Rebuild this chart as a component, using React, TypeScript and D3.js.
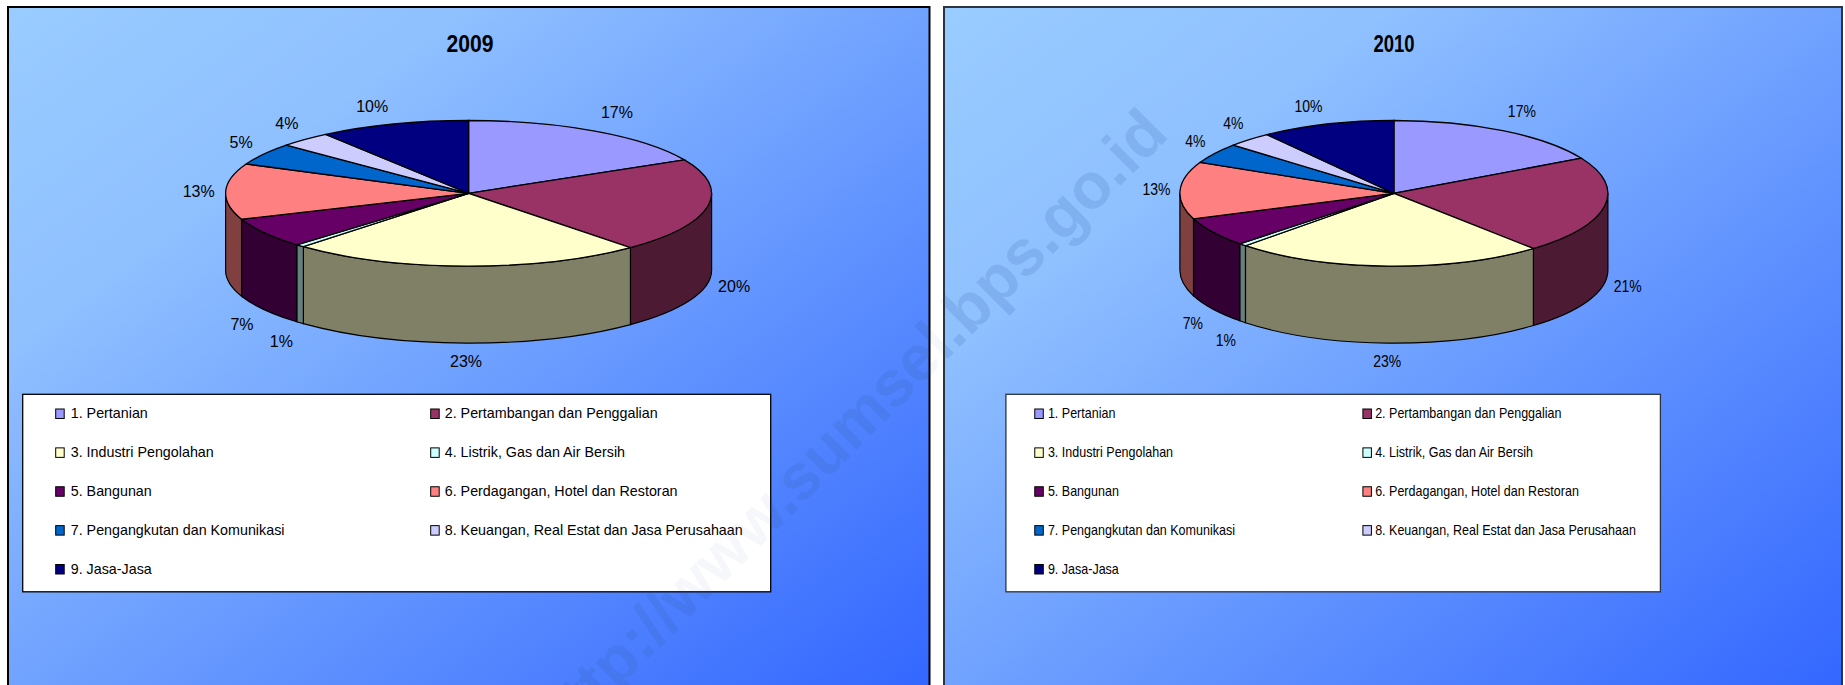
import React from 'react';
import * as d3 from 'd3';

const categories = [
  '1. Pertanian',
  '2. Pertambangan dan Penggalian',
  '3. Industri Pengolahan',
  '4. Listrik, Gas dan Air Bersih',
  '5. Bangunan',
  '6. Perdagangan, Hotel dan Restoran',
  '7. Pengangkutan dan Komunikasi',
  '8. Keuangan, Real Estat dan Jasa Perusahaan',
  '9. Jasa-Jasa',
];
const colors = ['#9999ff', '#993366', '#ffffcc', '#ccffff', '#660066', '#ff8080', '#0066cc', '#ccccff', '#000080'];

// slice sizes, the printed labels are slightly different after rounding
const shares2009 = [17.4, 21.0, 23.5, 0.6, 6.7, 12.4, 4.9, 3.5, 10.0];
const shares2010 = [17.0, 21.7, 23.5, 0.6, 6.5, 12.7, 4.5, 3.4, 10.1];
const labels2009 = ['17%', '20%', '23%', '1%', '7%', '13%', '5%', '4%', '10%'];
const labels2010 = ['17%', '21%', '23%', '1%', '7%', '13%', '4%', '4%', '10%'];

const WIDTH = 1845;
const HEIGHT = 685;
const CY = 193.3;
const RY = 72.8;
const DEPTH = 77;
const FONT = '"Liberation Sans", Arial, sans-serif';

const panels = [
  { id: 'p2009', title: '2009', shares: shares2009, labels: labels2009, x: 8, w: 921.5, cx: 468.6, rx: 243, titleX: 470, legendX: 22.7, sx: 1, stroke: '#000' },
  { id: 'p2010', title: '2010', shares: shares2010, labels: labels2010, x: 944, w: 898, cx: 1393.9, rx: 214, titleX: 1394, legendX: 1005.9, sx: 0.875, stroke: '#2b3440' },
];

const pie = d3.pie<number>().sort(null).value(d => d);
const arc = d3.arc<d3.PieArcDatum<number>>().innerRadius(0).outerRadius(100);

function wallPath(a0: number, a1: number, cx: number, rx: number) {
  const px = (a: number) => cx + rx * Math.sin(a);
  const py = (a: number) => CY - RY * Math.cos(a);
  const large = a1 - a0 > Math.PI ? 1 : 0;
  return (
    `M${px(a0)},${py(a0)}A${rx},${RY} 0 ${large} 1 ${px(a1)},${py(a1)}` +
    `L${px(a1)},${py(a1) + DEPTH}A${rx},${RY} 0 ${large} 0 ${px(a0)},${py(a0) + DEPTH}Z`
  );
}

function wallColor(c: string) {
  const { r, g, b } = d3.rgb(c);
  return d3.rgb(r / 2, g / 2, b / 2).formatHex();
}

function Watermark({ fill, opacity }: { fill: string; opacity: number }) {
  return (
    <text
      transform="translate(558.6,747.8) rotate(-45)"
      fontSize={64}
      fontWeight="bold"
      fontFamily={FONT}
      fill={fill}
      fillOpacity={opacity}
    >
      http://www.sumsel.bps.go.id
    </text>
  );
}

function Panel({ panel }: { panel: (typeof panels)[number] }) {
  const { sx, cx, rx } = panel;
  const slices = pie(panel.shares);
  const rowY = d3.scalePoint<number>().domain([0, 1, 2, 3, 4]).range([413.5, 569]);
  const colX = [33, 408].map(d => panel.legendX + d * sx);
  const textX = [48, 422].map(d => panel.legendX + d * sx);

  return (
    <g>
      <clipPath id={`${panel.id}-clip`}>
        <rect x={panel.x} y={7} width={panel.w} height={HEIGHT} />
      </clipPath>
      <rect x={panel.x} y={7} width={panel.w} height={HEIGHT} fill={`url(#${panel.id})`} />
      <g clipPath={`url(#${panel.id}-clip)`}>
        <Watermark fill="#2c5aa8" opacity={0.12} />
      </g>
      <rect x={panel.x} y={7} width={panel.w} height={HEIGHT} fill="none" stroke={panel.stroke} strokeWidth={2} />
      <text
        transform={`translate(${panel.titleX},44) scale(${sx * 0.92},1)`}
        textAnchor="middle"
        dy="0.35em"
        fontSize={23}
        fontWeight="bold"
        fontFamily={FONT}
      >
        {panel.title}
      </text>

      {slices.map((s, i) => {
        const a0 = Math.max(s.startAngle, Math.PI / 2);
        const a1 = Math.min(s.endAngle, (3 * Math.PI) / 2);
        if (a1 <= a0) return null;
        return <path key={i} d={wallPath(a0, a1, cx, rx)} fill={wallColor(colors[i])} stroke="#000" strokeWidth={1.2} />;
      })}
      {slices.map((s, i) => (
        <path
          key={i}
          d={arc(s) ?? ''}
          transform={`translate(${cx},${CY}) scale(${rx / 100},${RY / 100})`}
          fill={colors[i]}
          stroke="#000"
          strokeWidth={1.3}
          vectorEffect="non-scaling-stroke"
        />
      ))}

      {slices.map((s, i) => {
        const a = (s.startAngle + s.endAngle) / 2;
        const sin = Math.sin(a);
        const cos = Math.cos(a);
        // labels close to the top sit a bit further out, the front ones hang below the wall
        const push = cos > 0.8 ? (sin > 0 ? 8 : -13) * sx : 0;
        const x = cx + (rx + 27 * sx) * sin + push;
        let y = CY - (RY + 22) * cos;
        if (cos < 0) y = CY - (RY + 18 + (sin < -0.1 ? 8 : 0)) * cos + DEPTH;
        if (cos > 0.9) y += 3;
        return (
          <text
            key={i}
            transform={`translate(${x},${y}) scale(${sx},1)`}
            textAnchor="middle"
            dy="0.35em"
            fontSize={16}
            fontFamily={FONT}
          >
            {panel.labels[i]}
          </text>
        );
      })}

      <rect x={panel.legendX} y={394.3} width={748 * sx} height={197.5} fill="#fff" stroke={panel.stroke} strokeWidth={1.3} />
      {categories.map((c, i) => {
        const col = i % 2;
        const y = rowY(Math.floor(i / 2)) ?? 0;
        return (
          <g key={c}>
            <rect x={colX[col]} y={y - 4.5} width={8.5} height={9.5} fill={colors[i]} stroke="#000" strokeWidth={1} />
            <text
              transform={`translate(${textX[col]},${y}) scale(${sx * 1.022},1)`}
              dy="0.35em"
              fontSize={14}
              fontFamily={FONT}
            >
              {c}
            </text>
          </g>
        );
      })}
    </g>
  );
}

export default function App() {
  return (
    <svg
      width={WIDTH}
      height={HEIGHT}
      viewBox={`0 0 ${WIDTH} ${HEIGHT}`}
      style={{ position: 'absolute', left: 0, top: 0, display: 'block', background: '#fff' }}
    >
      <defs>
        {panels.map(p => (
          <linearGradient key={p.id} id={p.id} x1="0" y1="0" x2="1" y2="1">
            <stop offset="0" stopColor="#99ccff" />
            <stop offset="0.25" stopColor="#8fc0ff" />
            <stop offset="1" stopColor="#3366ff" />
          </linearGradient>
        ))}
      </defs>
      {panels.map(p => (
        <Panel key={p.id} panel={p} />
      ))}
      <Watermark fill="#5b7aa8" opacity={0.06} />
    </svg>
  );
}
